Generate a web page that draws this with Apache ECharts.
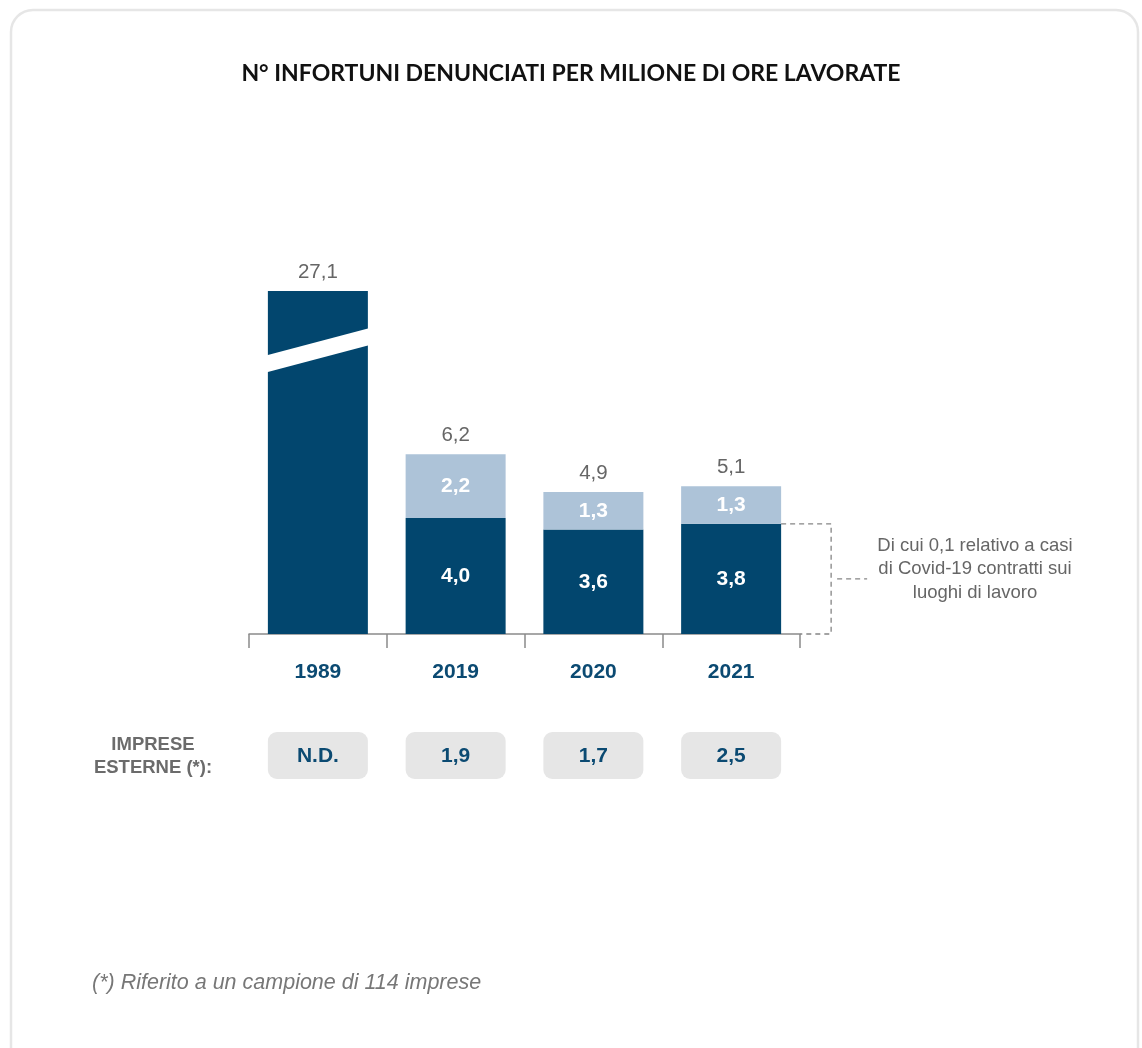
<!DOCTYPE html>
<html><head><meta charset="utf-8">
<script src="https://cdn.jsdelivr.net/npm/echarts@6/dist/echarts.min.js"></script>
<style>html,body{margin:0;padding:0;background:#fff}#c{width:1142px;height:1048px}</style>
</head><body><div id="c"></div>
<script>
// ---- data ----
const years = ['1989', '2019', '2020', '2021'];
const baseValues = [27.1, 4.0, 3.6, 3.8];
const extraValues = [null, 2.2, 1.3, 1.3];
const totals = [27.1, 6.2, 4.9, 5.1];
const externalFirms = ['N.D.', '1,9', '1,7', '2,5'];
const externalLabel = 'IMPRESE\nESTERNE (*):';
const covidNote = 'Di cui 0,1 relativo a casi\ndi Covid-19 contratti sui\nluoghi di lavoro';
const footnote = '(*) Riferito a un campione di 114 imprese';
const titleText = 'N° INFORTUNI DENUNCIATI PER MILIONE DI ORE LAVORATE';
const breakRange = [9.8, 25.07];
const noteYearIndex = 3;

const DARK = '#02466e', LIGHT = '#adc3d8', YEARC = '#0b4a72';
const fmt = v => (v == null ? '' : v.toFixed(1).replace('.', ','));
const SANS = '"Liberation Sans", Arial, sans-serif';

const chart = echarts.init(document.getElementById('c'), null, {renderer: 'canvas'});
chart.setOption({
  animation: false,
  backgroundColor: '#fff',
  title: {
    text: titleText, left: 'center', top: 57,
    textStyle: {fontFamily: 'Lato', fontWeight: 'bold', fontSize: 23, color: '#111'}
  },
  grid: {left: 249, right: 342, top: 291, bottom: 414, containLabel: false, outerBoundsMode: 'none'},
  xAxis: {
    type: 'category', data: years,
    axisLine: {lineStyle: {color: '#8a8a8a', width: 1.5}},
    axisTick: {show: true, length: 14, lineStyle: {color: '#8a8a8a', width: 1.5}},
    axisLabel: {margin: 28, fontFamily: SANS, fontWeight: 'bold', fontSize: 21, color: YEARC}
  },
  yAxis: {
    type: 'value', min: 0, max: 27.1,
    axisLine: {show: false}, axisTick: {show: false}, axisLabel: {show: false}, splitLine: {show: false},
    breaks: [{start: breakRange[0], end: breakRange[1], gap: 0}],
    breakArea: {show: false}
  },
  series: [
    {
      type: 'bar', stack: 'a', barWidth: 100, data: baseValues,
      itemStyle: {color: DARK},
      label: {show: true, position: 'inside', fontFamily: SANS, fontWeight: 'bold', fontSize: 21, color: '#fff',
        formatter: p => p.dataIndex === 0 ? '' : fmt(p.value)}
    },
    {
      type: 'bar', stack: 'a', barWidth: 100, data: extraValues,
      itemStyle: {color: LIGHT},
      label: {show: true, position: 'inside', fontFamily: SANS, fontWeight: 'bold', fontSize: 21, color: '#fff',
        formatter: p => fmt(p.value)}
    },
    {
      type: 'bar', barWidth: 100, barGap: '-100%', data: totals, z: 1,
      itemStyle: {color: 'rgba(0,0,0,0)'},
      label: {show: true, position: 'top', distance: 8, fontFamily: SANS, fontSize: 20.5, color: '#666',
        formatter: p => fmt(p.value)}
    }
  ]
});

function px(cat, val) { return chart.convertToPixel({xAxisIndex: 0, yAxisIndex: 0}, [cat, val]); }

const g = [];
// card
g.push({type: 'rect', shape: {x: 11, y: 10, width: 1127, height: 1065, r: 22},
  style: {fill: 'none', stroke: '#e6e6e6', lineWidth: 2.5}, z: -1, silent: true});

// diagonal break stripe on 1989 bar
const pb = px(years[0], breakRange[0]);
const xl = pb[0] - 50, xr = pb[0] + 50, c = pb[1];
g.push({type: 'polygon', shape: {points: [[xl - 1, c + 5.5], [xl - 1, c + 22.5], [xr + 1, c - 4.5], [xr + 1, c - 21.5]]},
  style: {fill: '#fff'}, z: 50});

// Covid annotation
const pTop = px(years[noteYearIndex], baseValues[noteYearIndex]);
const p0 = px(years[noteYearIndex], 0);
const bx = pTop[0] + 50, ax = bx + 50;
const dash = {stroke: '#858585', lineWidth: 1.3, lineDash: [5, 4], fill: 'none'};
g.push({type: 'polyline', shape: {points: [[bx, pTop[1]], [ax, pTop[1]], [ax, p0[1]], [bx + 19, p0[1]]]}, style: dash});
const mid = (pTop[1] + p0[1]) / 2;
g.push({type: 'line', shape: {x1: ax + 6, y1: mid, x2: ax + 36, y2: mid}, style: dash});
g.push({type: 'text', x: 975, y: 569, style: {text: covidNote, x: 0, y: 0, align: 'center', verticalAlign: 'middle',
  font: '18.5px "Liberation Sans", Arial, sans-serif', fill: '#666', lineHeight: 23.5}});

// external firms row
g.push({type: 'text', x: 153, y: 756, style: {text: externalLabel, align: 'center', verticalAlign: 'middle',
  font: 'bold 18.5px "Liberation Sans", Arial, sans-serif', fill: '#6b6b6b', lineHeight: 23}});
years.forEach((y, i) => {
  const p = px(y, 0);
  g.push({type: 'rect', shape: {x: p[0] - 50, y: 732, width: 100, height: 47, r: 9}, style: {fill: '#e6e6e6'}});
  g.push({type: 'text', x: p[0], y: 756, style: {text: externalFirms[i], align: 'center', verticalAlign: 'middle',
    font: 'bold 21px "Liberation Sans", Arial, sans-serif', fill: YEARC}});
});

// footnote
g.push({type: 'text', x: 92, y: 983, style: {text: footnote, align: 'left', verticalAlign: 'middle',
  font: 'italic 21.5px "Liberation Sans", Arial, sans-serif', fill: '#777'}});

chart.setOption({graphic: g});
</script></body></html>
